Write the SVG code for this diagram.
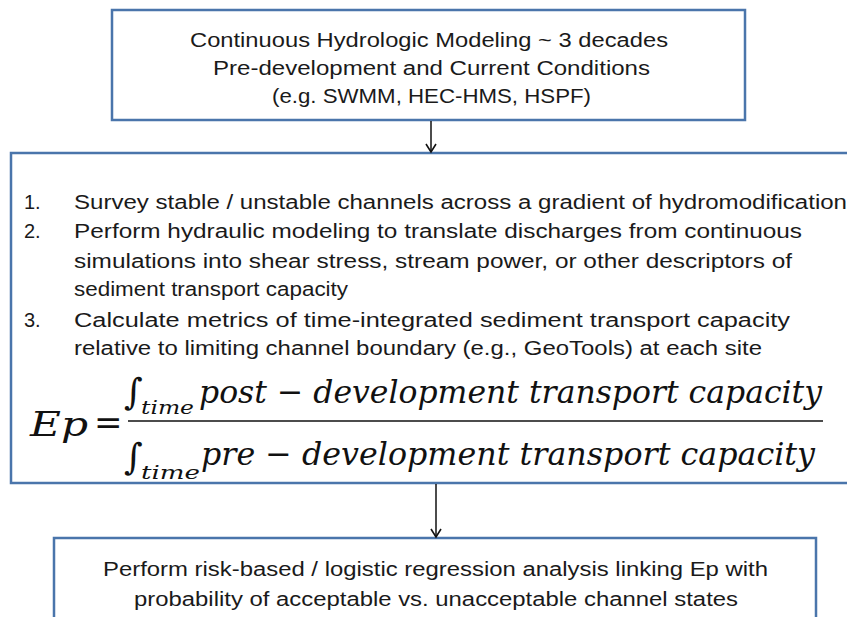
<svg xmlns="http://www.w3.org/2000/svg" width="847" height="617" viewBox="0 0 847 617">
<defs>
<style>
.box{fill:#fff;stroke:#4A75AB;stroke-width:2.5}
.t{font-family:"Liberation Sans",Arial,sans-serif;font-size:20px;fill:#1a1a1a}
.m{font-family:"DejaVu Serif","Liberation Serif",serif;font-style:italic;fill:#111}
.conn{stroke:#111;stroke-width:1.5;fill:none}
</style>
<marker id="arr" viewBox="0 0 12 12" refX="10" refY="6" markerWidth="12" markerHeight="12" markerUnits="userSpaceOnUse" orient="auto">
<path d="M2,1 L10,6 L2,11" fill="none" stroke="#111" stroke-width="1.6"/>
</marker>
</defs>
<rect width="847" height="617" fill="#fff"/>
<g id="node-top">
<rect class="box" x="112" y="10" width="633" height="110"/>
<text class="t" x="190" y="47" textLength="478" lengthAdjust="spacingAndGlyphs">Continuous Hydrologic Modeling ~ 3 decades</text>
<text class="t" x="213" y="75" textLength="437" lengthAdjust="spacingAndGlyphs">Pre-development and Current Conditions</text>
<text class="t" x="272" y="103" textLength="319" lengthAdjust="spacingAndGlyphs">(e.g. SWMM, HEC-HMS, HSPF)</text>
</g>
<g id="node-middle">
<rect class="box" x="11" y="153" width="850" height="330"/>
<text class="t" x="24" y="209">1.</text>
<text class="t" x="74" y="209" textLength="773" lengthAdjust="spacingAndGlyphs">Survey stable / unstable channels across a gradient of hydromodification</text>
<text class="t" x="24" y="238">2.</text>
<text class="t" x="74" y="238" textLength="728" lengthAdjust="spacingAndGlyphs">Perform hydraulic modeling to translate discharges from continuous</text>
<text class="t" x="74" y="268" textLength="718" lengthAdjust="spacingAndGlyphs">simulations into shear stress, stream power, or other descriptors of</text>
<text class="t" x="74" y="296" textLength="274" lengthAdjust="spacingAndGlyphs">sediment transport capacity</text>
<text class="t" x="24" y="327">3.</text>
<text class="t" x="74" y="327" textLength="716" lengthAdjust="spacingAndGlyphs">Calculate metrics of time-integrated sediment transport capacity</text>
<text class="t" x="74" y="355" textLength="688" lengthAdjust="spacingAndGlyphs">relative to limiting channel boundary (e.g., GeoTools) at each site</text>
<text class="m" x="30" y="436" font-size="34" textLength="58" lengthAdjust="spacingAndGlyphs">Ep</text>
<text class="m" x="94" y="434" font-size="34" font-style="normal">=</text>
<line x1="128" y1="421" x2="823" y2="421" stroke="#111" stroke-width="1.5"/>
<text class="m" x="124" y="404" font-size="36">∫</text>
<text class="m" x="141" y="414" font-size="19" textLength="53" lengthAdjust="spacingAndGlyphs">time</text>
<text class="m" x="199" y="403" font-size="32" textLength="623" lengthAdjust="spacingAndGlyphs">post − development transport capacity</text>
<text class="m" x="124" y="469" font-size="36">∫</text>
<text class="m" x="141" y="479" font-size="19" textLength="59" lengthAdjust="spacingAndGlyphs">time</text>
<text class="m" x="201" y="465" font-size="32" textLength="614" lengthAdjust="spacingAndGlyphs">pre − development transport capacity</text>
</g>
<g id="node-bottom">
<rect class="box" x="54" y="538" width="762" height="100"/>
<text class="t" x="103" y="576" textLength="665" lengthAdjust="spacingAndGlyphs">Perform risk-based / logistic regression analysis linking Ep with</text>
<text class="t" x="134" y="606" textLength="604" lengthAdjust="spacingAndGlyphs">probability of acceptable vs. unacceptable channel states</text>
</g>
<g id="connectors">
<line class="conn" x1="431" y1="121" x2="431" y2="152" marker-end="url(#arr)"/>
<line class="conn" x1="436" y1="484" x2="436" y2="537" marker-end="url(#arr)"/>
</g>
</svg>
